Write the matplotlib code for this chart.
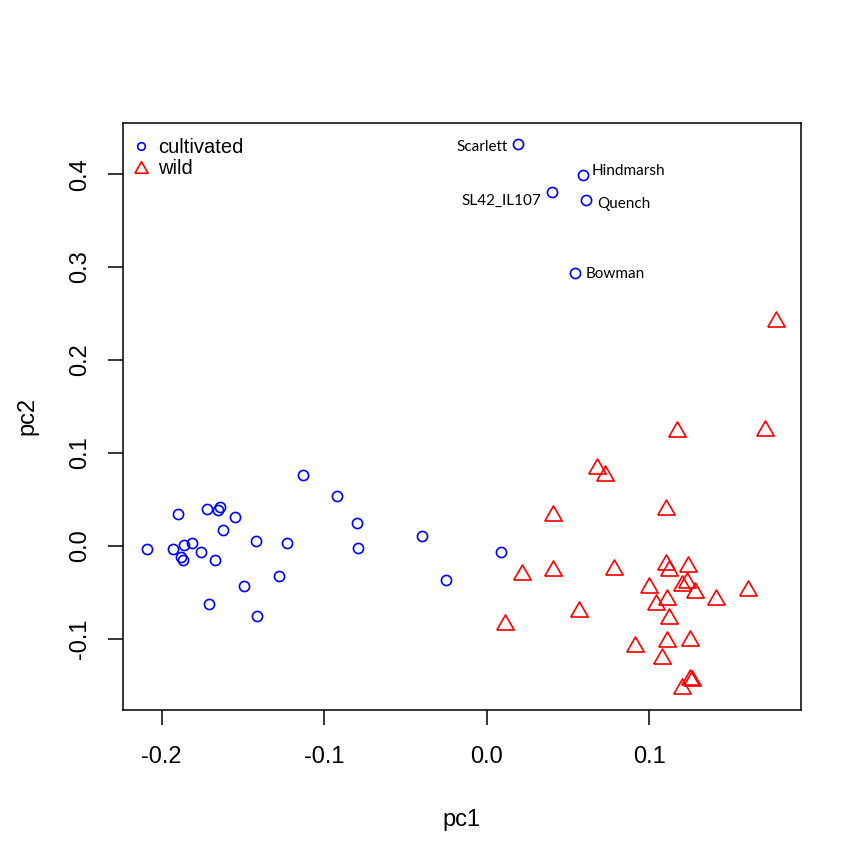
import numpy as np
import matplotlib
matplotlib.use("Agg")
import matplotlib.pyplot as plt
from matplotlib.lines import Line2D

#%% DATA

# cultivated lines without a name
cult_pc1 = [-0.209, -0.190, -0.193, -0.186, -0.181, -0.188, -0.187, -0.176, -0.172,
            -0.165, -0.164, -0.167, -0.162, -0.155, -0.171, -0.149, -0.142, -0.141,
            -0.128, -0.123, -0.113, -0.092, -0.080, -0.079, -0.040, -0.025, 0.009]
cult_pc2 = [-0.004, 0.034, -0.004, 0.001, 0.003, -0.012, -0.015, -0.007, 0.040,
            0.039, 0.042, -0.015, 0.017, 0.031, -0.063, -0.043, 0.005, -0.076,
            -0.033, 0.003, 0.076, 0.054, 0.025, -0.002, 0.011, -0.037, -0.007]

# named cultivated lines
names = ["Scarlett", "Hindmarsh", "SL42_IL107", "Quench", "Bowman"]
named_pc1 = [0.019, 0.059, 0.040, 0.061, 0.054]
named_pc2 = [0.432, 0.399, 0.381, 0.372, 0.294]

# wild accessions
wild_pc1 = [0.117, 0.171, 0.068, 0.073, 0.110, 0.041, 0.022, 0.041, 0.078, 0.110,
            0.112, 0.124, 0.100, 0.120, 0.123, 0.128, 0.141, 0.161, 0.111, 0.104,
            0.112, 0.057, 0.011, 0.091, 0.111, 0.125, 0.108, 0.125, 0.126, 0.120,
            0.178]
wild_pc2 = [0.126, 0.127, 0.086, 0.078, 0.042, 0.035, -0.028, -0.024, -0.023, -0.018,
            -0.024, -0.020, -0.042, -0.040, -0.037, -0.048, -0.055, -0.045, -0.055, -0.061,
            -0.076, -0.068, -0.082, -0.106, -0.100, -0.099, -0.119, -0.141, -0.142, -0.151,
            0.244]

x_ticks = [-0.2, -0.1, 0.0, 0.1]
y_ticks = [-0.1, 0.0, 0.1, 0.2, 0.3, 0.4]

#%% STYLE

plt.rcParams["font.family"] = ["Liberation Sans", "DejaVu Sans"]
plt.rcParams["axes.unicode_minus"] = False

BLUE = "#0000ff"
RED = "#ff0000"

# R style triangle (pch = 2), centred on its bounding box
tri = [(-0.5, -0.433), (0.5, -0.433), (0.0, 0.433), (-0.5, -0.433)]

# label offsets in points (dx, dy, ha)
label_pos = {"Scarlett": (-6.8, -2.0, "right"),
             "Hindmarsh": (6.8, 2.8, "left"),
             "SL42_IL107": (-7.9, -6.3, "right"),
             "Quench": (8.1, -2.7, "left"),
             "Bowman": (8.1, -1.0, "left")}

#%% PLOT

fig = plt.figure(figsize=(8.64, 8.63), dpi=100)
ax = fig.add_axes([0.1420, 0.1773, 0.7851, 0.6805])

ax.plot(cult_pc1, cult_pc2, "o", ls="none", ms=7.3, mfc="none", mec=BLUE, mew=1.2)
ax.plot(named_pc1, named_pc2, "o", ls="none", ms=7.3, mfc="none", mec=BLUE, mew=1.2)
ax.plot(wild_pc1, wild_pc2, marker=tri, ls="none", ms=12.5, mfc="none", mec=RED, mew=1.2)

for name, x, y in zip(names, named_pc1, named_pc2):
    dx, dy, ha = label_pos[name]
    ax.annotate(name, (x, y), xytext=(dx, dy), textcoords="offset points",
                ha=ha, va="center", fontsize=11, family=["Lato", "DejaVu Sans"])

ax.set_xlim(-0.2239, 0.1933)
ax.set_ylim(-0.1768, 0.4554)
ax.set_xticks(x_ticks)
ax.set_yticks(y_ticks)
ax.set_xticklabels(["%.1f" % t for t in x_ticks])
ax.set_yticklabels(["%.1f" % t for t in y_ticks], rotation=90, va="center")
ax.tick_params(labelsize=17, length=10.8, width=1.1, pad=15)
ax.tick_params(axis="y", pad=12)
for s in ax.spines.values():
    s.set_linewidth(1.1)

ax.set_xlabel("pc1", fontsize=17, labelpad=30)
ax.set_ylabel("pc2", fontsize=17, labelpad=22)

#legend, no box like R bty="n"
handles = [Line2D([], [], marker="o", ls="none", ms=5.5, mfc="none", mec=BLUE, mew=1.2),
           Line2D([], [], marker=tri, ls="none", ms=9.5, mfc="none", mec=RED, mew=1.2)]
ax.legend(handles, ["cultivated", "wild"], loc="upper left", bbox_to_anchor=(0, 0.988),
          frameon=False, fontsize=14.5, handlelength=1.0, handletextpad=0.35,
          borderaxespad=0, borderpad=0.4, labelspacing=0.1)

fig.savefig("out.png", dpi=100)
